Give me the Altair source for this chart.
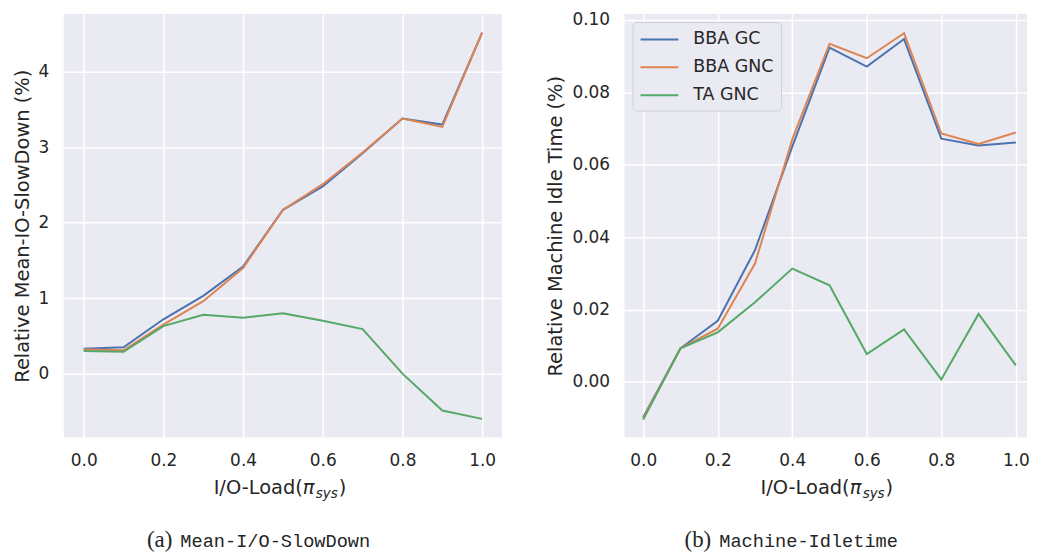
import altair as alt
import pandas as pd

# ---- data ----
io_load = [0.0, 0.1, 0.2, 0.3, 0.4, 0.5, 0.6, 0.7, 0.8, 0.9, 1.0]
series_names = ["BBA GC", "BBA GNC", "TA GNC"]
series_colors = ["#4c72b0", "#dd8452", "#55a868"]

slow_bba_gc = [0.33, 0.35, 0.72, 1.03, 1.42, 2.17, 2.48, 2.92, 3.38, 3.30, 4.52]
slow_bba_gnc = [0.32, 0.31, 0.65, 0.96, 1.40, 2.17, 2.51, 2.93, 3.38, 3.27, 4.52]
slow_ta_gnc = [0.30, 0.29, 0.63, 0.78, 0.74, 0.80, 0.70, 0.59, 0.00, -0.49, -0.60]

idle_bba_gc = [-0.0097, 0.0093, 0.0169, 0.0364, 0.0650, 0.0923, 0.0871, 0.0947, 0.0672, 0.0653, 0.0661]
idle_bba_gnc = [-0.0100, 0.0093, 0.0147, 0.0327, 0.0670, 0.0934, 0.0894, 0.0963, 0.0686, 0.0657, 0.0689]
idle_ta_gnc = [-0.0104, 0.0093, 0.0137, 0.0220, 0.0313, 0.0267, 0.0077, 0.0145, 0.0007, 0.0188, 0.0046]

x_ticks = [0.0, 0.2, 0.4, 0.6, 0.8, 1.0]
slow_ticks = [0, 1, 2, 3, 4]
idle_ticks = [0.00, 0.02, 0.04, 0.06, 0.08, 0.10]

TEXT = "#262626"
FONT = "DejaVu Sans"


def long_df(a, b, c):
    rows = []
    for name, vals in zip(series_names, [a, b, c]):
        for x, v in zip(io_load, vals):
            rows.append({"x": x, "v": v, "s": name})
    return pd.DataFrame(rows)


def text_layer(txt, x, y, size, font=FONT, align="left", style="normal", color=TEXT):
    return alt.Chart(pd.DataFrame({"t": [txt]})).mark_text(
        align=align, baseline="alphabetic", font=font, fontSize=size,
        fontStyle=style, color=color
    ).encode(x=alt.value(x), y=alt.value(y), text="t:N")


def xtitle(cx, y):
    return [
        text_layer("I/O-Load(", cx + 20, y, 19.5, align="right"),
        text_layer("π", cx + 20, y, 19.5, style="italic"),
        text_layer("sys", cx + 33, y + 4, 13.5, style="italic"),
        text_layer(")", cx + 56, y, 19.5),
    ]


def panel(df, xdomain, ydomain, yticks, yfmt, ytitle, width, height, legend,
          cap_letter, cap_text, cap_x, title_cx):
    enc_color = alt.Color(
        "s:N",
        scale=alt.Scale(domain=series_names, range=series_colors),
        legend=legend,
    )
    lines = alt.Chart(df).mark_line(strokeWidth=2, clip=True).encode(
        x=alt.X("x:Q", scale=alt.Scale(domain=xdomain, nice=False, zero=False),
                axis=alt.Axis(values=x_ticks, format=".1f", title=None)),
        y=alt.Y("v:Q", scale=alt.Scale(domain=ydomain, nice=False, zero=False),
                axis=alt.Axis(values=yticks, format=yfmt, title=ytitle)),
        color=enc_color,
        order=alt.Order("x:Q"),
    )
    layers = [lines] + xtitle(title_cx, 482) + [
        text_layer(cap_letter, cap_x, 535, 23, font="Liberation Serif", align="right"),
        text_layer(cap_text, cap_x + 8, 535, 18.7, font="Liberation Mono"),
    ]
    return alt.layer(*layers).properties(width=width, height=height)


left = panel(
    long_df(slow_bba_gc, slow_bba_gnc, slow_ta_gnc),
    [-0.05, 1.05], [-0.845, 4.765], slow_ticks, "d", "Relative Mean-IO-SlowDown (%)",
    440, 425, None, "(a)", "Mean-I/O-SlowDown", 109, 220,
)

legend = alt.Legend(
    title=None, orient="none", legendX=8, legendY=8,
    symbolType="M-1,0H3", symbolSize=361, symbolStrokeWidth=2,
    labelFontSize=17.5, labelFont=FONT, labelColor=TEXT, labelOffset=33,
    rowPadding=9, padding=7, fillColor="#eaeaf2", strokeColor="#d0d0d8",
    cornerRadius=4,
)

right = panel(
    long_df(idle_bba_gc, idle_bba_gnc, idle_ta_gnc),
    [-0.05, 1.03], [-0.0153, 0.1016], idle_ticks, ".2f", "Relative Machine Idle Time (%)",
    404, 425, legend, "(b)", "Machine-Idletime", 87, 206,
)

chart = alt.hconcat(left, right, spacing=44).resolve_scale(
    color="independent"
).resolve_legend(color="independent").properties(
    padding={"left": 4, "top": 1, "right": 0, "bottom": 0}
).configure_view(
    fill="#eaeaf2", stroke=None
).configure_axis(
    grid=True, gridColor="white", gridWidth=1.5, domain=False, ticks=False,
    labelFont=FONT, labelFontSize=17, labelColor=TEXT, labelPadding=15,
    titleFont=FONT, titleFontSize=19.5, titleColor=TEXT, titleFontWeight="normal",
    titlePadding=6,
)

chart.save("out.html", embed_options={"renderer": "svg", "actions": False})
